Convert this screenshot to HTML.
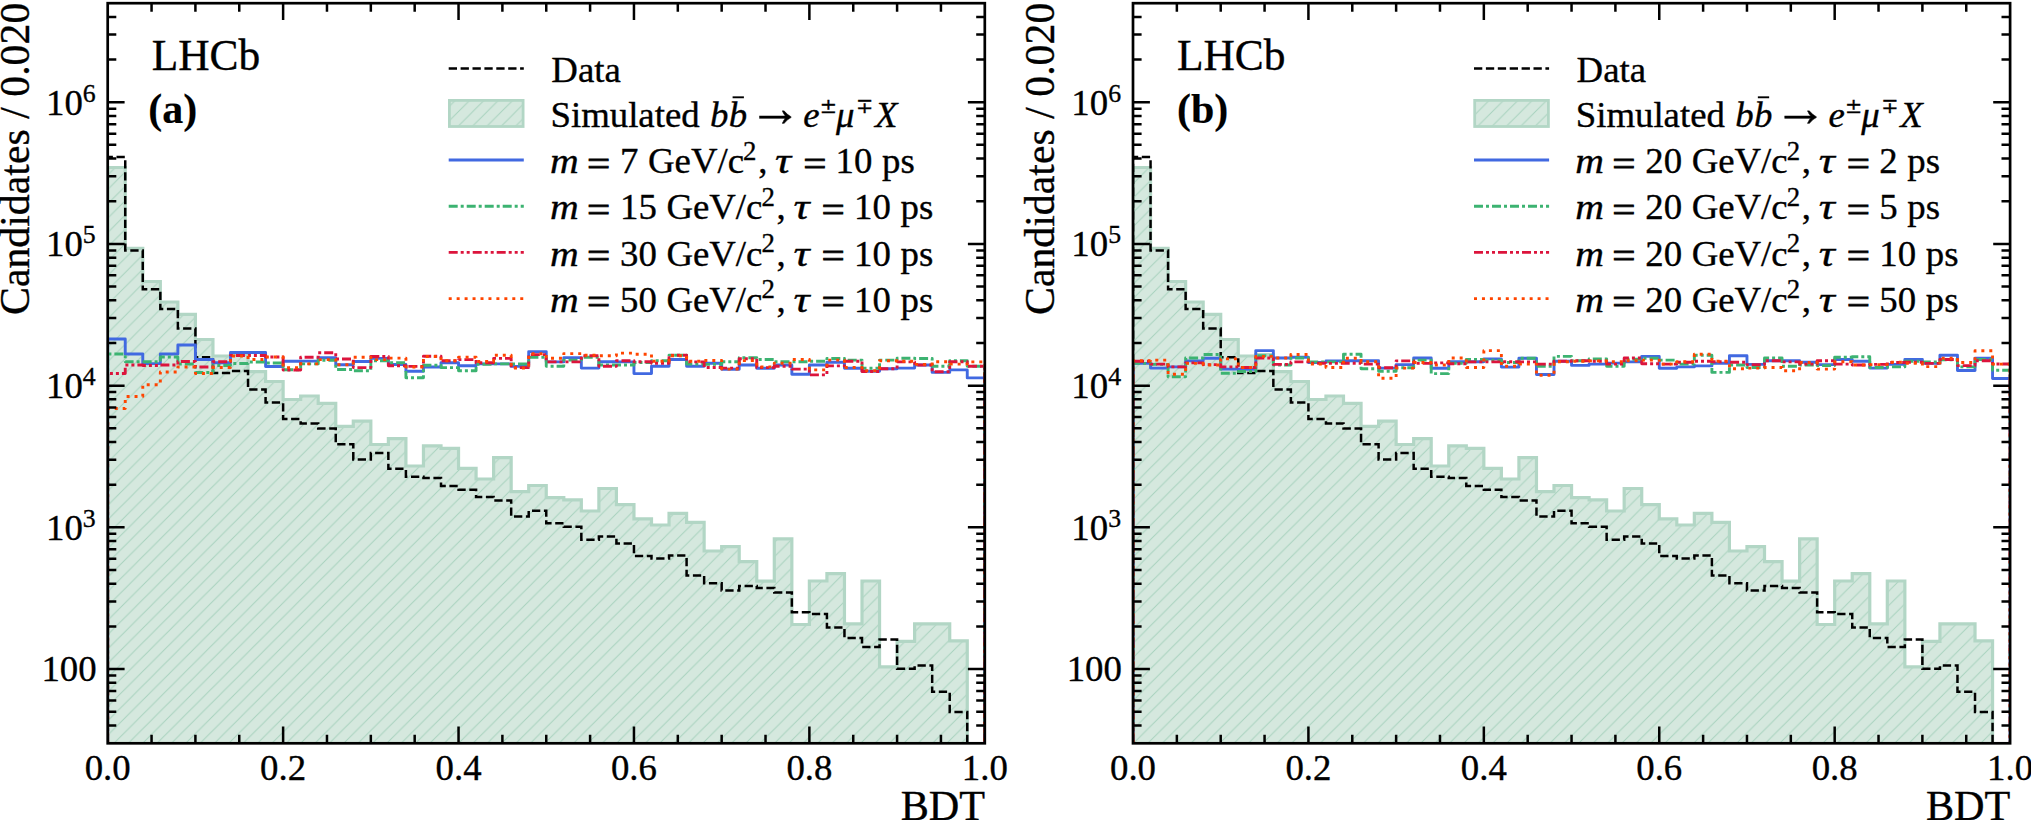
<!DOCTYPE html>
<html><head><meta charset="utf-8"><title>BDT distributions</title>
<style>html,body{margin:0;padding:0;background:#fff}svg{display:block}text{font-family:"Liberation Serif","DejaVu Serif",serif;fill:#000;stroke:#000;stroke-width:0.35px}.it{font-style:italic}.b{font-weight:bold;stroke-width:0.15px}</style></head><body>
<svg width="2031" height="820" viewBox="0 0 2031 820">
<rect width="2031" height="820" fill="#fff"/>
<defs>
<pattern id="hatch" patternUnits="userSpaceOnUse" width="14.36" height="14.36" x="10.0" y="0"><path d="M-7.18 7.18 L7.18 -7.18 M0 14.36 L14.36 0 M7.18 21.54 L21.54 7.18" stroke="#a8d2be" stroke-width="1.0" fill="none"/></pattern>
<clipPath id="clip0"><rect x="107.7" y="3.2" width="877.1" height="740.1"/></clipPath>
<clipPath id="clip1"><rect x="1133" y="3.2" width="877.1" height="740.1"/></clipPath>
</defs>
<g clip-path="url(#clip0)">
<path d="M107.7 743.3 L107.7 167.5 L125.24 167.5 L125.24 248.4 L142.78 248.4 L142.78 281.5 L160.33 281.5 L160.33 302 L177.87 302 L177.87 314.4 L195.41 314.4 L195.41 339.5 L212.95 339.5 L212.95 356 L230.49 356 L230.49 354.5 L248.04 354.5 L248.04 371.6 L265.58 371.6 L265.58 381.5 L283.12 381.5 L283.12 399.5 L300.66 399.5 L300.66 396 L318.2 396 L318.2 403.3 L335.75 403.3 L335.75 426.4 L353.29 426.4 L353.29 421.2 L370.83 421.2 L370.83 444.5 L388.37 444.5 L388.37 438.6 L405.91 438.6 L405.91 466 L423.46 466 L423.46 445.9 L441 445.9 L441 448.4 L458.54 448.4 L458.54 468.3 L476.08 468.3 L476.08 479 L493.62 479 L493.62 457.6 L511.17 457.6 L511.17 491.7 L528.71 491.7 L528.71 485.5 L546.25 485.5 L546.25 497.6 L563.79 497.6 L563.79 499.8 L581.33 499.8 L581.33 511 L598.88 511 L598.88 488.5 L616.42 488.5 L616.42 504.7 L633.96 504.7 L633.96 518.8 L651.5 518.8 L651.5 525 L669.04 525 L669.04 513.3 L686.59 513.3 L686.59 522.3 L704.13 522.3 L704.13 551 L721.67 551 L721.67 546.7 L739.21 546.7 L739.21 561.7 L756.75 561.7 L756.75 581.2 L774.3 581.2 L774.3 538.8 L791.84 538.8 L791.84 624.5 L809.38 624.5 L809.38 581 L826.92 581 L826.92 573.7 L844.46 573.7 L844.46 623.9 L862.01 623.9 L862.01 581 L879.55 581 L879.55 666.8 L897.09 666.8 L897.09 641.3 L914.63 641.3 L914.63 623.9 L932.17 623.9 L932.17 623.9 L949.72 623.9 L949.72 640.8 L967.26 640.8 L967.26 743.3 Z" fill="#d5e8de" stroke="none"/>
<path d="M107.7 743.3 L107.7 167.5 L125.24 167.5 L125.24 248.4 L142.78 248.4 L142.78 281.5 L160.33 281.5 L160.33 302 L177.87 302 L177.87 314.4 L195.41 314.4 L195.41 339.5 L212.95 339.5 L212.95 356 L230.49 356 L230.49 354.5 L248.04 354.5 L248.04 371.6 L265.58 371.6 L265.58 381.5 L283.12 381.5 L283.12 399.5 L300.66 399.5 L300.66 396 L318.2 396 L318.2 403.3 L335.75 403.3 L335.75 426.4 L353.29 426.4 L353.29 421.2 L370.83 421.2 L370.83 444.5 L388.37 444.5 L388.37 438.6 L405.91 438.6 L405.91 466 L423.46 466 L423.46 445.9 L441 445.9 L441 448.4 L458.54 448.4 L458.54 468.3 L476.08 468.3 L476.08 479 L493.62 479 L493.62 457.6 L511.17 457.6 L511.17 491.7 L528.71 491.7 L528.71 485.5 L546.25 485.5 L546.25 497.6 L563.79 497.6 L563.79 499.8 L581.33 499.8 L581.33 511 L598.88 511 L598.88 488.5 L616.42 488.5 L616.42 504.7 L633.96 504.7 L633.96 518.8 L651.5 518.8 L651.5 525 L669.04 525 L669.04 513.3 L686.59 513.3 L686.59 522.3 L704.13 522.3 L704.13 551 L721.67 551 L721.67 546.7 L739.21 546.7 L739.21 561.7 L756.75 561.7 L756.75 581.2 L774.3 581.2 L774.3 538.8 L791.84 538.8 L791.84 624.5 L809.38 624.5 L809.38 581 L826.92 581 L826.92 573.7 L844.46 573.7 L844.46 623.9 L862.01 623.9 L862.01 581 L879.55 581 L879.55 666.8 L897.09 666.8 L897.09 641.3 L914.63 641.3 L914.63 623.9 L932.17 623.9 L932.17 623.9 L949.72 623.9 L949.72 640.8 L967.26 640.8 L967.26 743.3 Z" fill="url(#hatch)" stroke="none"/>
<path d="M107.7 743.3 L107.7 167.5 L125.24 167.5 L125.24 248.4 L142.78 248.4 L142.78 281.5 L160.33 281.5 L160.33 302 L177.87 302 L177.87 314.4 L195.41 314.4 L195.41 339.5 L212.95 339.5 L212.95 356 L230.49 356 L230.49 354.5 L248.04 354.5 L248.04 371.6 L265.58 371.6 L265.58 381.5 L283.12 381.5 L283.12 399.5 L300.66 399.5 L300.66 396 L318.2 396 L318.2 403.3 L335.75 403.3 L335.75 426.4 L353.29 426.4 L353.29 421.2 L370.83 421.2 L370.83 444.5 L388.37 444.5 L388.37 438.6 L405.91 438.6 L405.91 466 L423.46 466 L423.46 445.9 L441 445.9 L441 448.4 L458.54 448.4 L458.54 468.3 L476.08 468.3 L476.08 479 L493.62 479 L493.62 457.6 L511.17 457.6 L511.17 491.7 L528.71 491.7 L528.71 485.5 L546.25 485.5 L546.25 497.6 L563.79 497.6 L563.79 499.8 L581.33 499.8 L581.33 511 L598.88 511 L598.88 488.5 L616.42 488.5 L616.42 504.7 L633.96 504.7 L633.96 518.8 L651.5 518.8 L651.5 525 L669.04 525 L669.04 513.3 L686.59 513.3 L686.59 522.3 L704.13 522.3 L704.13 551 L721.67 551 L721.67 546.7 L739.21 546.7 L739.21 561.7 L756.75 561.7 L756.75 581.2 L774.3 581.2 L774.3 538.8 L791.84 538.8 L791.84 624.5 L809.38 624.5 L809.38 581 L826.92 581 L826.92 573.7 L844.46 573.7 L844.46 623.9 L862.01 623.9 L862.01 581 L879.55 581 L879.55 666.8 L897.09 666.8 L897.09 641.3 L914.63 641.3 L914.63 623.9 L932.17 623.9 L932.17 623.9 L949.72 623.9 L949.72 640.8 L967.26 640.8 L967.26 743.3" fill="none" stroke="#b2d6c5" stroke-width="3.2" stroke-linejoin="miter"/>
<path d="M107.7 743.3 L107.7 157.1 L125.24 157.1 L125.24 250.4 L142.78 250.4 L142.78 289.3 L160.33 289.3 L160.33 309 L177.87 309 L177.87 328.5 L195.41 328.5 L195.41 357.3 L212.95 357.3 L212.95 373 L230.49 373 L230.49 371.1 L248.04 371.1 L248.04 389.5 L265.58 389.5 L265.58 402.6 L283.12 402.6 L283.12 419 L300.66 419 L300.66 423.4 L318.2 423.4 L318.2 428.5 L335.75 428.5 L335.75 444.3 L353.29 444.3 L353.29 459.5 L370.83 459.5 L370.83 453.1 L388.37 453.1 L388.37 468.7 L405.91 468.7 L405.91 476.7 L423.46 476.7 L423.46 478.1 L441 478.1 L441 485.9 L458.54 485.9 L458.54 489.8 L476.08 489.8 L476.08 497 L493.62 497 L493.62 500.5 L511.17 500.5 L511.17 516.5 L528.71 516.5 L528.71 510.7 L546.25 510.7 L546.25 523.2 L563.79 523.2 L563.79 526.8 L581.33 526.8 L581.33 539.7 L598.88 539.7 L598.88 536.4 L616.42 536.4 L616.42 543.4 L633.96 543.4 L633.96 555.9 L651.5 555.9 L651.5 558.4 L669.04 558.4 L669.04 555.5 L686.59 555.5 L686.59 575.4 L704.13 575.4 L704.13 583.2 L721.67 583.2 L721.67 590.6 L739.21 590.6 L739.21 586.1 L756.75 586.1 L756.75 588.1 L774.3 588.1 L774.3 592.4 L791.84 592.4 L791.84 612.2 L809.38 612.2 L809.38 614 L826.92 614 L826.92 627.4 L844.46 627.4 L844.46 637.9 L862.01 637.9 L862.01 647 L879.55 647 L879.55 639.5 L897.09 639.5 L897.09 668.7 L914.63 668.7 L914.63 665.5 L932.17 665.5 L932.17 691.8 L949.72 691.8 L949.72 711.9 L967.26 711.9 L967.26 743.3" fill="none" stroke="#000" stroke-width="2.5" stroke-dasharray="8.3 3.6"/>
<path d="M107.7 743.3 L107.7 339 L125.24 339 L125.24 354 L142.78 354 L142.78 363.6 L160.33 363.6 L160.33 354 L177.87 354 L177.87 345 L195.41 345 L195.41 359.5 L212.95 359.5 L212.95 362.7 L230.49 362.7 L230.49 352.5 L248.04 352.5 L248.04 352.5 L265.58 352.5 L265.58 366.5 L283.12 366.5 L283.12 361.3 L300.66 361.3 L300.66 361.1 L318.2 361.1 L318.2 357.8 L335.75 357.8 L335.75 364.8 L353.29 364.8 L353.29 361.5 L370.83 361.5 L370.83 358.4 L388.37 358.4 L388.37 364.5 L405.91 364.5 L405.91 371.3 L423.46 371.3 L423.46 367 L441 367 L441 362.7 L458.54 362.7 L458.54 365.8 L476.08 365.8 L476.08 363.9 L493.62 363.9 L493.62 363.9 L511.17 363.9 L511.17 366.4 L528.71 366.4 L528.71 351.6 L546.25 351.6 L546.25 361.9 L563.79 361.9 L563.79 357.6 L581.33 357.6 L581.33 368.1 L598.88 368.1 L598.88 361.7 L616.42 361.7 L616.42 361.9 L633.96 361.9 L633.96 373.6 L651.5 373.6 L651.5 366.2 L669.04 366.2 L669.04 359.5 L686.59 359.5 L686.59 366.2 L704.13 366.2 L704.13 363.2 L721.67 363.2 L721.67 369.3 L739.21 369.3 L739.21 365 L756.75 365 L756.75 368.3 L774.3 368.3 L774.3 365 L791.84 365 L791.84 374.2 L809.38 374.2 L809.38 365 L826.92 365 L826.92 362.2 L844.46 362.2 L844.46 368.3 L862.01 368.3 L862.01 371.2 L879.55 371.2 L879.55 368.7 L897.09 368.7 L897.09 368.1 L914.63 368.1 L914.63 365 L932.17 365 L932.17 372.4 L949.72 372.4 L949.72 369.9 L967.26 369.9 L967.26 377.9 L984.8 377.9 L984.8 743.3" fill="none" stroke="#4169e1" stroke-width="2.9" stroke-linejoin="round"/>
<path d="M107.7 743.3 L107.7 354 L125.24 354 L125.24 361.8 L142.78 361.8 L142.78 361.8 L160.33 361.8 L160.33 357 L177.87 357 L177.87 364 L195.41 364 L195.41 372.5 L212.95 372.5 L212.95 365.5 L230.49 365.5 L230.49 363.5 L248.04 363.5 L248.04 362 L265.58 362 L265.58 363 L283.12 363 L283.12 369.8 L300.66 369.8 L300.66 363.9 L318.2 363.9 L318.2 360.2 L335.75 360.2 L335.75 369.5 L353.29 369.5 L353.29 370.7 L370.83 370.7 L370.83 360.8 L388.37 360.8 L388.37 362.7 L405.91 362.7 L405.91 377.8 L423.46 377.8 L423.46 365.2 L441 365.2 L441 367.6 L458.54 367.6 L458.54 370.7 L476.08 370.7 L476.08 364.3 L493.62 364.3 L493.62 363.9 L511.17 363.9 L511.17 364 L528.71 364 L528.71 357.4 L546.25 357.4 L546.25 366.2 L563.79 366.2 L563.79 360.1 L581.33 360.1 L581.33 357.3 L598.88 357.3 L598.88 365 L616.42 365 L616.42 365 L633.96 365 L633.96 362.5 L651.5 362.5 L651.5 360.7 L669.04 360.7 L669.04 355.2 L686.59 355.2 L686.59 364.1 L704.13 364.1 L704.13 364.4 L721.67 364.4 L721.67 361.7 L739.21 361.7 L739.21 357.8 L756.75 357.8 L756.75 359.5 L774.3 359.5 L774.3 361.7 L791.84 361.7 L791.84 361.7 L809.38 361.7 L809.38 361.3 L826.92 361.3 L826.92 358.5 L844.46 358.5 L844.46 360.1 L862.01 360.1 L862.01 368.3 L879.55 368.3 L879.55 360.1 L897.09 360.1 L897.09 358.2 L914.63 358.2 L914.63 358.5 L932.17 358.5 L932.17 366.2 L949.72 366.2 L949.72 360.7 L967.26 360.7 L967.26 366.2 L984.8 366.2 L984.8 743.3" fill="none" stroke="#3cb371" stroke-width="2.9" stroke-linejoin="round" stroke-dasharray="9 3 3 3"/>
<path d="M107.7 743.3 L107.7 373.5 L125.24 373.5 L125.24 365 L142.78 365 L142.78 365.5 L160.33 365.5 L160.33 365 L177.87 365 L177.87 361.5 L195.41 361.5 L195.41 367 L212.95 367 L212.95 361.8 L230.49 361.8 L230.49 355.5 L248.04 355.5 L248.04 355.5 L265.58 355.5 L265.58 357 L283.12 357 L283.12 370 L300.66 370 L300.66 357.2 L318.2 357.2 L318.2 352.8 L335.75 352.8 L335.75 359 L353.29 359 L353.29 367.6 L370.83 367.6 L370.83 356.5 L388.37 356.5 L388.37 365.8 L405.91 365.8 L405.91 366.4 L423.46 366.4 L423.46 356.2 L441 356.2 L441 360.8 L458.54 360.8 L458.54 359.6 L476.08 359.6 L476.08 362.7 L493.62 362.7 L493.62 358.4 L511.17 358.4 L511.17 367.6 L528.71 367.6 L528.71 354.6 L546.25 354.6 L546.25 361.9 L563.79 361.9 L563.79 361.9 L581.33 361.9 L581.33 355.8 L598.88 355.8 L598.88 366.2 L616.42 366.2 L616.42 360.7 L633.96 360.7 L633.96 361.7 L651.5 361.7 L651.5 363.2 L669.04 363.2 L669.04 355.2 L686.59 355.2 L686.59 361.9 L704.13 361.9 L704.13 367.5 L721.67 367.5 L721.67 368.1 L739.21 368.1 L739.21 358.8 L756.75 358.8 L756.75 367.6 L774.3 367.6 L774.3 366.2 L791.84 366.2 L791.84 369.1 L809.38 369.1 L809.38 374.9 L826.92 374.9 L826.92 365.9 L844.46 365.9 L844.46 361.3 L862.01 361.3 L862.01 371.5 L879.55 371.5 L879.55 368.7 L897.09 368.7 L897.09 361.9 L914.63 361.9 L914.63 365 L932.17 365 L932.17 371.8 L949.72 371.8 L949.72 361.7 L967.26 361.7 L967.26 366.2 L984.8 366.2 L984.8 743.3" fill="none" stroke="#dc143c" stroke-width="2.9" stroke-linejoin="round" stroke-dasharray="9 3 3 3 3 3"/>
<path d="M107.7 743.3 L107.7 408.5 L125.24 408.5 L125.24 396.5 L142.78 396.5 L142.78 384.8 L160.33 384.8 L160.33 372 L177.87 372 L177.87 367 L195.41 367 L195.41 373.5 L212.95 373.5 L212.95 367.5 L230.49 367.5 L230.49 356 L248.04 356 L248.04 359.5 L265.58 359.5 L265.58 357 L283.12 357 L283.12 367.6 L300.66 367.6 L300.66 363.9 L318.2 363.9 L318.2 359.6 L335.75 359.6 L335.75 364.8 L353.29 364.8 L353.29 357.2 L370.83 357.2 L370.83 359.6 L388.37 359.6 L388.37 358.1 L405.91 358.1 L405.91 367 L423.46 367 L423.46 356.5 L441 356.5 L441 360.8 L458.54 360.8 L458.54 357.2 L476.08 357.2 L476.08 361.5 L493.62 361.5 L493.62 355.3 L511.17 355.3 L511.17 368 L528.71 368 L528.71 353.8 L546.25 353.8 L546.25 358.2 L563.79 358.2 L563.79 353.6 L581.33 353.6 L581.33 355.2 L598.88 355.2 L598.88 355.8 L616.42 355.8 L616.42 353.1 L633.96 353.1 L633.96 354.3 L651.5 354.3 L651.5 361.3 L669.04 361.3 L669.04 355.8 L686.59 355.8 L686.59 361.3 L704.13 361.3 L704.13 360.5 L721.67 360.5 L721.67 369.1 L739.21 369.1 L739.21 360.6 L756.75 360.6 L756.75 366.9 L774.3 366.9 L774.3 363.2 L791.84 363.2 L791.84 359.5 L809.38 359.5 L809.38 369.9 L826.92 369.9 L826.92 360.1 L844.46 360.1 L844.46 367.5 L862.01 367.5 L862.01 370.8 L879.55 370.8 L879.55 360.7 L897.09 360.7 L897.09 361.3 L914.63 361.3 L914.63 364.4 L932.17 364.4 L932.17 361.7 L949.72 361.7 L949.72 364.1 L967.26 364.1 L967.26 361.9 L984.8 361.9 L984.8 743.3" fill="none" stroke="#ff4500" stroke-width="2.9" stroke-linejoin="round" stroke-dasharray="3 4.95"/>
</g>
<path d="M107.7 725.48h8.6M984.8 725.48h-8.6M107.7 711.74h8.6M984.8 711.74h-8.6M107.7 700.52h8.6M984.8 700.52h-8.6M107.7 691.03h8.6M984.8 691.03h-8.6M107.7 682.81h8.6M984.8 682.81h-8.6M107.7 675.56h8.6M984.8 675.56h-8.6M107.7 669.08h16.9M984.8 669.08h-16.9M107.7 626.42h8.6M984.8 626.42h-8.6M107.7 601.46h8.6M984.8 601.46h-8.6M107.7 583.76h8.6M984.8 583.76h-8.6M107.7 570.02h8.6M984.8 570.02h-8.6M107.7 558.8h8.6M984.8 558.8h-8.6M107.7 549.31h8.6M984.8 549.31h-8.6M107.7 541.09h8.6M984.8 541.09h-8.6M107.7 533.84h8.6M984.8 533.84h-8.6M107.7 527.36h16.9M984.8 527.36h-16.9M107.7 484.7h8.6M984.8 484.7h-8.6M107.7 459.74h8.6M984.8 459.74h-8.6M107.7 442.04h8.6M984.8 442.04h-8.6M107.7 428.3h8.6M984.8 428.3h-8.6M107.7 417.08h8.6M984.8 417.08h-8.6M107.7 407.59h8.6M984.8 407.59h-8.6M107.7 399.37h8.6M984.8 399.37h-8.6M107.7 392.12h8.6M984.8 392.12h-8.6M107.7 385.64h16.9M984.8 385.64h-16.9M107.7 342.98h8.6M984.8 342.98h-8.6M107.7 318.02h8.6M984.8 318.02h-8.6M107.7 300.32h8.6M984.8 300.32h-8.6M107.7 286.58h8.6M984.8 286.58h-8.6M107.7 275.36h8.6M984.8 275.36h-8.6M107.7 265.87h8.6M984.8 265.87h-8.6M107.7 257.65h8.6M984.8 257.65h-8.6M107.7 250.4h8.6M984.8 250.4h-8.6M107.7 243.92h16.9M984.8 243.92h-16.9M107.7 201.26h8.6M984.8 201.26h-8.6M107.7 176.3h8.6M984.8 176.3h-8.6M107.7 158.6h8.6M984.8 158.6h-8.6M107.7 144.86h8.6M984.8 144.86h-8.6M107.7 133.64h8.6M984.8 133.64h-8.6M107.7 124.15h8.6M984.8 124.15h-8.6M107.7 115.93h8.6M984.8 115.93h-8.6M107.7 108.68h8.6M984.8 108.68h-8.6M107.7 102.2h16.9M984.8 102.2h-16.9M107.7 59.54h8.6M984.8 59.54h-8.6M107.7 34.58h8.6M984.8 34.58h-8.6M107.7 16.88h8.6M984.8 16.88h-8.6M151.56 743.3v-8.6M151.56 3.2v8.6M195.41 743.3v-8.6M195.41 3.2v8.6M239.26 743.3v-8.6M239.26 3.2v8.6M283.12 743.3v-16.9M283.12 3.2v16.9M326.98 743.3v-8.6M326.98 3.2v8.6M370.83 743.3v-8.6M370.83 3.2v8.6M414.68 743.3v-8.6M414.68 3.2v8.6M458.54 743.3v-16.9M458.54 3.2v16.9M502.39 743.3v-8.6M502.39 3.2v8.6M546.25 743.3v-8.6M546.25 3.2v8.6M590.1 743.3v-8.6M590.1 3.2v8.6M633.96 743.3v-16.9M633.96 3.2v16.9M677.82 743.3v-8.6M677.82 3.2v8.6M721.67 743.3v-8.6M721.67 3.2v8.6M765.52 743.3v-8.6M765.52 3.2v8.6M809.38 743.3v-16.9M809.38 3.2v16.9M853.24 743.3v-8.6M853.24 3.2v8.6M897.09 743.3v-8.6M897.09 3.2v8.6M940.94 743.3v-8.6M940.94 3.2v8.6" stroke="#000" stroke-width="2.5" fill="none"/>
<rect x="107.7" y="3.2" width="877.1" height="740.1" fill="none" stroke="#000" stroke-width="2.7"/>
<text x="96.6" y="681.38" font-size="36.8" text-anchor="end">100</text>
<text x="95.7" y="539.66" font-size="36.8" text-anchor="end">10<tspan font-size="25.76" dy="-12.9">3</tspan></text>
<text x="95.7" y="397.94" font-size="36.8" text-anchor="end">10<tspan font-size="25.76" dy="-12.9">4</tspan></text>
<text x="95.7" y="256.22" font-size="36.8" text-anchor="end">10<tspan font-size="25.76" dy="-12.9">5</tspan></text>
<text x="95.7" y="114.5" font-size="36.8" text-anchor="end">10<tspan font-size="25.76" dy="-12.9">6</tspan></text>
<text x="107.7" y="779.5" font-size="36.8" text-anchor="middle">0.0</text>
<text x="283.12" y="779.5" font-size="36.8" text-anchor="middle">0.2</text>
<text x="458.54" y="779.5" font-size="36.8" text-anchor="middle">0.4</text>
<text x="633.96" y="779.5" font-size="36.8" text-anchor="middle">0.6</text>
<text x="809.38" y="779.5" font-size="36.8" text-anchor="middle">0.8</text>
<text x="984.8" y="779.5" font-size="36.8" text-anchor="middle">1.0</text>
<text x="985" y="819.5" font-size="42.2" text-anchor="end">BDT</text>
<text transform="translate(28.6 2.7) rotate(-90)" font-size="41.8" text-anchor="end">Candidates / 0.020</text>
<text x="151.7" y="70" font-size="43.4">LHCb</text>
<text x="148.3" y="122.5" font-size="42" class="b">(a)</text>
<path d="M448.7 68.4H523.8" stroke="#000" stroke-width="2.5" stroke-dasharray="8.3 3.6"/>
<rect x="449.4" y="100.4" width="73.7" height="26.1" fill="#d5e8de"/>
<rect x="449.4" y="100.4" width="73.7" height="26.1" fill="url(#hatch)"/>
<rect x="449.4" y="100.4" width="73.7" height="26.1" fill="none" stroke="#b2d6c5" stroke-width="2.8"/>
<path d="M448.7 160H523.8" stroke="#4169e1" stroke-width="2.9"/>
<path d="M448.7 206.2H523.8" stroke="#3cb371" stroke-width="2.9" stroke-dasharray="9 3 3 3"/>
<path d="M448.7 252.4H523.8" stroke="#dc143c" stroke-width="2.9" stroke-dasharray="9 3 3 3 3 3"/>
<path d="M448.7 298.6H523.8" stroke="#ff4500" stroke-width="2.9" stroke-dasharray="3 4.95"/>
<text x="551.34" y="81.5" font-size="36.8">Data</text>
<text x="550.44" y="126.5" font-size="36.8">Simulated</text>
<text x="710.03" y="126.5" font-size="36.8" class="it">b</text>
<text x="728.63" y="126.5" font-size="36.8" class="it">b</text>
<path d="M732.6 97.3h11.3" stroke="#000" stroke-width="1.9"/>
<text x="748.58" y="126.3" font-size="53.5">→</text>
<text x="803.27" y="126.5" font-size="36.8" class="it">e</text>
<text x="819.82" y="113.1" font-size="20.6" style="font-family:'DejaVu Serif',serif">±</text>
<text x="836.04" y="126.5" font-size="36.8" class="it">μ</text>
<text x="856.02" y="113.1" font-size="20.6" style="font-family:'DejaVu Serif',serif">∓</text>
<text x="874.92" y="126.5" font-size="36.8" class="it">X</text>
<text transform="translate(549.96 173.1) scale(1.08 1)" font-size="36.8" class="it">m</text>
<text transform="translate(587.05 175.7) scale(1.12 1)" font-size="36.8" style="stroke-width:0.8px">=</text>
<text x="620" y="173.1" font-size="36.8">7</text>
<text x="648" y="173.1" font-size="36.8">GeV/c</text>
<text x="743.12" y="159.6" font-size="26.8">2</text>
<text x="758.2" y="173.1" font-size="36.8">,</text>
<text transform="translate(775.01 173.1) scale(1.22 1)" font-size="36.8" class="it">τ</text>
<text transform="translate(803.15 175.7) scale(1.12 1)" font-size="36.8" style="stroke-width:0.8px">=</text>
<text x="835.6" y="173.1" font-size="36.8">10</text>
<text x="882.11" y="173.1" font-size="36.8">ps</text>
<text transform="translate(549.96 219.3) scale(1.08 1)" font-size="36.8" class="it">m</text>
<text transform="translate(587.05 221.9) scale(1.12 1)" font-size="36.8" style="stroke-width:0.8px">=</text>
<text x="620" y="219.3" font-size="36.8">15</text>
<text x="666.4" y="219.3" font-size="36.8">GeV/c</text>
<text x="761.52" y="205.8" font-size="26.8">2</text>
<text x="776.6" y="219.3" font-size="36.8">,</text>
<text transform="translate(793.41 219.3) scale(1.22 1)" font-size="36.8" class="it">τ</text>
<text transform="translate(821.55 221.9) scale(1.12 1)" font-size="36.8" style="stroke-width:0.8px">=</text>
<text x="854" y="219.3" font-size="36.8">10</text>
<text x="900.51" y="219.3" font-size="36.8">ps</text>
<text transform="translate(549.96 265.5) scale(1.08 1)" font-size="36.8" class="it">m</text>
<text transform="translate(587.05 268.1) scale(1.12 1)" font-size="36.8" style="stroke-width:0.8px">=</text>
<text x="620" y="265.5" font-size="36.8">30</text>
<text x="666.4" y="265.5" font-size="36.8">GeV/c</text>
<text x="761.52" y="252" font-size="26.8">2</text>
<text x="776.6" y="265.5" font-size="36.8">,</text>
<text transform="translate(793.41 265.5) scale(1.22 1)" font-size="36.8" class="it">τ</text>
<text transform="translate(821.55 268.1) scale(1.12 1)" font-size="36.8" style="stroke-width:0.8px">=</text>
<text x="854" y="265.5" font-size="36.8">10</text>
<text x="900.51" y="265.5" font-size="36.8">ps</text>
<text transform="translate(549.96 311.7) scale(1.08 1)" font-size="36.8" class="it">m</text>
<text transform="translate(587.05 314.3) scale(1.12 1)" font-size="36.8" style="stroke-width:0.8px">=</text>
<text x="620" y="311.7" font-size="36.8">50</text>
<text x="666.4" y="311.7" font-size="36.8">GeV/c</text>
<text x="761.52" y="298.2" font-size="26.8">2</text>
<text x="776.6" y="311.7" font-size="36.8">,</text>
<text transform="translate(793.41 311.7) scale(1.22 1)" font-size="36.8" class="it">τ</text>
<text transform="translate(821.55 314.3) scale(1.12 1)" font-size="36.8" style="stroke-width:0.8px">=</text>
<text x="854" y="311.7" font-size="36.8">10</text>
<text x="900.51" y="311.7" font-size="36.8">ps</text>
<g clip-path="url(#clip1)">
<path d="M1133 743.3 L1133 167.5 L1150.54 167.5 L1150.54 248.4 L1168.08 248.4 L1168.08 281.5 L1185.63 281.5 L1185.63 302 L1203.17 302 L1203.17 314.4 L1220.71 314.4 L1220.71 339.5 L1238.25 339.5 L1238.25 356 L1255.79 356 L1255.79 354.5 L1273.34 354.5 L1273.34 371.6 L1290.88 371.6 L1290.88 381.5 L1308.42 381.5 L1308.42 399.5 L1325.96 399.5 L1325.96 396 L1343.5 396 L1343.5 403.3 L1361.05 403.3 L1361.05 426.4 L1378.59 426.4 L1378.59 421.2 L1396.13 421.2 L1396.13 444.5 L1413.67 444.5 L1413.67 438.6 L1431.21 438.6 L1431.21 466 L1448.76 466 L1448.76 445.9 L1466.3 445.9 L1466.3 448.4 L1483.84 448.4 L1483.84 468.3 L1501.38 468.3 L1501.38 479 L1518.92 479 L1518.92 457.6 L1536.47 457.6 L1536.47 491.7 L1554.01 491.7 L1554.01 485.5 L1571.55 485.5 L1571.55 497.6 L1589.09 497.6 L1589.09 499.8 L1606.63 499.8 L1606.63 511 L1624.18 511 L1624.18 488.5 L1641.72 488.5 L1641.72 504.7 L1659.26 504.7 L1659.26 518.8 L1676.8 518.8 L1676.8 525 L1694.34 525 L1694.34 513.3 L1711.89 513.3 L1711.89 522.3 L1729.43 522.3 L1729.43 551 L1746.97 551 L1746.97 546.7 L1764.51 546.7 L1764.51 561.7 L1782.05 561.7 L1782.05 581.2 L1799.6 581.2 L1799.6 538.8 L1817.14 538.8 L1817.14 624.5 L1834.68 624.5 L1834.68 581 L1852.22 581 L1852.22 573.7 L1869.76 573.7 L1869.76 623.9 L1887.31 623.9 L1887.31 581 L1904.85 581 L1904.85 666.8 L1922.39 666.8 L1922.39 641.3 L1939.93 641.3 L1939.93 623.9 L1957.47 623.9 L1957.47 623.9 L1975.02 623.9 L1975.02 640.8 L1992.56 640.8 L1992.56 743.3 Z" fill="#d5e8de" stroke="none"/>
<path d="M1133 743.3 L1133 167.5 L1150.54 167.5 L1150.54 248.4 L1168.08 248.4 L1168.08 281.5 L1185.63 281.5 L1185.63 302 L1203.17 302 L1203.17 314.4 L1220.71 314.4 L1220.71 339.5 L1238.25 339.5 L1238.25 356 L1255.79 356 L1255.79 354.5 L1273.34 354.5 L1273.34 371.6 L1290.88 371.6 L1290.88 381.5 L1308.42 381.5 L1308.42 399.5 L1325.96 399.5 L1325.96 396 L1343.5 396 L1343.5 403.3 L1361.05 403.3 L1361.05 426.4 L1378.59 426.4 L1378.59 421.2 L1396.13 421.2 L1396.13 444.5 L1413.67 444.5 L1413.67 438.6 L1431.21 438.6 L1431.21 466 L1448.76 466 L1448.76 445.9 L1466.3 445.9 L1466.3 448.4 L1483.84 448.4 L1483.84 468.3 L1501.38 468.3 L1501.38 479 L1518.92 479 L1518.92 457.6 L1536.47 457.6 L1536.47 491.7 L1554.01 491.7 L1554.01 485.5 L1571.55 485.5 L1571.55 497.6 L1589.09 497.6 L1589.09 499.8 L1606.63 499.8 L1606.63 511 L1624.18 511 L1624.18 488.5 L1641.72 488.5 L1641.72 504.7 L1659.26 504.7 L1659.26 518.8 L1676.8 518.8 L1676.8 525 L1694.34 525 L1694.34 513.3 L1711.89 513.3 L1711.89 522.3 L1729.43 522.3 L1729.43 551 L1746.97 551 L1746.97 546.7 L1764.51 546.7 L1764.51 561.7 L1782.05 561.7 L1782.05 581.2 L1799.6 581.2 L1799.6 538.8 L1817.14 538.8 L1817.14 624.5 L1834.68 624.5 L1834.68 581 L1852.22 581 L1852.22 573.7 L1869.76 573.7 L1869.76 623.9 L1887.31 623.9 L1887.31 581 L1904.85 581 L1904.85 666.8 L1922.39 666.8 L1922.39 641.3 L1939.93 641.3 L1939.93 623.9 L1957.47 623.9 L1957.47 623.9 L1975.02 623.9 L1975.02 640.8 L1992.56 640.8 L1992.56 743.3 Z" fill="url(#hatch)" stroke="none"/>
<path d="M1133 743.3 L1133 167.5 L1150.54 167.5 L1150.54 248.4 L1168.08 248.4 L1168.08 281.5 L1185.63 281.5 L1185.63 302 L1203.17 302 L1203.17 314.4 L1220.71 314.4 L1220.71 339.5 L1238.25 339.5 L1238.25 356 L1255.79 356 L1255.79 354.5 L1273.34 354.5 L1273.34 371.6 L1290.88 371.6 L1290.88 381.5 L1308.42 381.5 L1308.42 399.5 L1325.96 399.5 L1325.96 396 L1343.5 396 L1343.5 403.3 L1361.05 403.3 L1361.05 426.4 L1378.59 426.4 L1378.59 421.2 L1396.13 421.2 L1396.13 444.5 L1413.67 444.5 L1413.67 438.6 L1431.21 438.6 L1431.21 466 L1448.76 466 L1448.76 445.9 L1466.3 445.9 L1466.3 448.4 L1483.84 448.4 L1483.84 468.3 L1501.38 468.3 L1501.38 479 L1518.92 479 L1518.92 457.6 L1536.47 457.6 L1536.47 491.7 L1554.01 491.7 L1554.01 485.5 L1571.55 485.5 L1571.55 497.6 L1589.09 497.6 L1589.09 499.8 L1606.63 499.8 L1606.63 511 L1624.18 511 L1624.18 488.5 L1641.72 488.5 L1641.72 504.7 L1659.26 504.7 L1659.26 518.8 L1676.8 518.8 L1676.8 525 L1694.34 525 L1694.34 513.3 L1711.89 513.3 L1711.89 522.3 L1729.43 522.3 L1729.43 551 L1746.97 551 L1746.97 546.7 L1764.51 546.7 L1764.51 561.7 L1782.05 561.7 L1782.05 581.2 L1799.6 581.2 L1799.6 538.8 L1817.14 538.8 L1817.14 624.5 L1834.68 624.5 L1834.68 581 L1852.22 581 L1852.22 573.7 L1869.76 573.7 L1869.76 623.9 L1887.31 623.9 L1887.31 581 L1904.85 581 L1904.85 666.8 L1922.39 666.8 L1922.39 641.3 L1939.93 641.3 L1939.93 623.9 L1957.47 623.9 L1957.47 623.9 L1975.02 623.9 L1975.02 640.8 L1992.56 640.8 L1992.56 743.3" fill="none" stroke="#b2d6c5" stroke-width="3.2" stroke-linejoin="miter"/>
<path d="M1133 743.3 L1133 157.1 L1150.54 157.1 L1150.54 250.4 L1168.08 250.4 L1168.08 289.3 L1185.63 289.3 L1185.63 309 L1203.17 309 L1203.17 328.5 L1220.71 328.5 L1220.71 357.3 L1238.25 357.3 L1238.25 373 L1255.79 373 L1255.79 371.1 L1273.34 371.1 L1273.34 389.5 L1290.88 389.5 L1290.88 402.6 L1308.42 402.6 L1308.42 419 L1325.96 419 L1325.96 423.4 L1343.5 423.4 L1343.5 428.5 L1361.05 428.5 L1361.05 444.3 L1378.59 444.3 L1378.59 459.5 L1396.13 459.5 L1396.13 453.1 L1413.67 453.1 L1413.67 468.7 L1431.21 468.7 L1431.21 476.7 L1448.76 476.7 L1448.76 478.1 L1466.3 478.1 L1466.3 485.9 L1483.84 485.9 L1483.84 489.8 L1501.38 489.8 L1501.38 497 L1518.92 497 L1518.92 500.5 L1536.47 500.5 L1536.47 516.5 L1554.01 516.5 L1554.01 510.7 L1571.55 510.7 L1571.55 523.2 L1589.09 523.2 L1589.09 526.8 L1606.63 526.8 L1606.63 539.7 L1624.18 539.7 L1624.18 536.4 L1641.72 536.4 L1641.72 543.4 L1659.26 543.4 L1659.26 555.9 L1676.8 555.9 L1676.8 558.4 L1694.34 558.4 L1694.34 555.5 L1711.89 555.5 L1711.89 575.4 L1729.43 575.4 L1729.43 583.2 L1746.97 583.2 L1746.97 590.6 L1764.51 590.6 L1764.51 586.1 L1782.05 586.1 L1782.05 588.1 L1799.6 588.1 L1799.6 592.4 L1817.14 592.4 L1817.14 612.2 L1834.68 612.2 L1834.68 614 L1852.22 614 L1852.22 627.4 L1869.76 627.4 L1869.76 637.9 L1887.31 637.9 L1887.31 647 L1904.85 647 L1904.85 639.5 L1922.39 639.5 L1922.39 668.7 L1939.93 668.7 L1939.93 665.5 L1957.47 665.5 L1957.47 691.8 L1975.02 691.8 L1975.02 711.9 L1992.56 711.9 L1992.56 743.3" fill="none" stroke="#000" stroke-width="2.5" stroke-dasharray="8.3 3.6"/>
<path d="M1133 743.3 L1133 363.4 L1150.54 363.4 L1150.54 368.1 L1168.08 368.1 L1168.08 366.9 L1185.63 366.9 L1185.63 360.9 L1203.17 360.9 L1203.17 358.2 L1220.71 358.2 L1220.71 369.1 L1238.25 369.1 L1238.25 369.3 L1255.79 369.3 L1255.79 350.6 L1273.34 350.6 L1273.34 358 L1290.88 358 L1290.88 357.3 L1308.42 357.3 L1308.42 362.5 L1325.96 362.5 L1325.96 360.9 L1343.5 360.9 L1343.5 360.7 L1361.05 360.7 L1361.05 360.7 L1378.59 360.7 L1378.59 368.1 L1396.13 368.1 L1396.13 364.6 L1413.67 364.6 L1413.67 358 L1431.21 358 L1431.21 368.3 L1448.76 368.3 L1448.76 361.7 L1466.3 361.7 L1466.3 361.7 L1483.84 361.7 L1483.84 358.9 L1501.38 358.9 L1501.38 367.1 L1518.92 367.1 L1518.92 358.2 L1536.47 358.2 L1536.47 374.5 L1554.01 374.5 L1554.01 361.3 L1571.55 361.3 L1571.55 365.4 L1589.09 365.4 L1589.09 364.1 L1606.63 364.1 L1606.63 363.1 L1624.18 363.1 L1624.18 361.9 L1641.72 361.9 L1641.72 356.4 L1659.26 356.4 L1659.26 368.3 L1676.8 368.3 L1676.8 366.9 L1694.34 366.9 L1694.34 365.9 L1711.89 365.9 L1711.89 363.2 L1729.43 363.2 L1729.43 355.8 L1746.97 355.8 L1746.97 364.4 L1764.51 364.4 L1764.51 360.7 L1782.05 360.7 L1782.05 360.7 L1799.6 360.7 L1799.6 362.2 L1817.14 362.2 L1817.14 364.6 L1834.68 364.6 L1834.68 359.5 L1852.22 359.5 L1852.22 361.3 L1869.76 361.3 L1869.76 368.1 L1887.31 368.1 L1887.31 364.4 L1904.85 364.4 L1904.85 359.5 L1922.39 359.5 L1922.39 363.4 L1939.93 363.4 L1939.93 355.2 L1957.47 355.2 L1957.47 370.5 L1975.02 370.5 L1975.02 358.2 L1992.56 358.2 L1992.56 378.5 L2010.1 378.5 L2010.1 743.3" fill="none" stroke="#4169e1" stroke-width="2.9" stroke-linejoin="round"/>
<path d="M1133 743.3 L1133 363.4 L1150.54 363.4 L1150.54 364.4 L1168.08 364.4 L1168.08 376.7 L1185.63 376.7 L1185.63 358 L1203.17 358 L1203.17 354.5 L1220.71 354.5 L1220.71 373.3 L1238.25 373.3 L1238.25 371.5 L1255.79 371.5 L1255.79 355.8 L1273.34 355.8 L1273.34 365 L1290.88 365 L1290.88 358 L1308.42 358 L1308.42 361.9 L1325.96 361.9 L1325.96 361.9 L1343.5 361.9 L1343.5 354.3 L1361.05 354.3 L1361.05 368.7 L1378.59 368.7 L1378.59 371.2 L1396.13 371.2 L1396.13 367.8 L1413.67 367.8 L1413.67 360.1 L1431.21 360.1 L1431.21 373.6 L1448.76 373.6 L1448.76 363.2 L1466.3 363.2 L1466.3 359.5 L1483.84 359.5 L1483.84 360.1 L1501.38 360.1 L1501.38 362.5 L1518.92 362.5 L1518.92 358.2 L1536.47 358.2 L1536.47 366.2 L1554.01 366.2 L1554.01 356.4 L1571.55 356.4 L1571.55 360.7 L1589.09 360.7 L1589.09 358.9 L1606.63 358.9 L1606.63 366.2 L1624.18 366.2 L1624.18 359.2 L1641.72 359.2 L1641.72 358.2 L1659.26 358.2 L1659.26 360.1 L1676.8 360.1 L1676.8 364.1 L1694.34 364.1 L1694.34 355.2 L1711.89 355.2 L1711.89 372.4 L1729.43 372.4 L1729.43 365 L1746.97 365 L1746.97 367.5 L1764.51 367.5 L1764.51 358 L1782.05 358 L1782.05 366.2 L1799.6 366.2 L1799.6 365 L1817.14 365 L1817.14 365.6 L1834.68 365.6 L1834.68 357.3 L1852.22 357.3 L1852.22 356.8 L1869.76 356.8 L1869.76 367.5 L1887.31 367.5 L1887.31 366.9 L1904.85 366.9 L1904.85 361.3 L1922.39 361.3 L1922.39 361.9 L1939.93 361.9 L1939.93 359.7 L1957.47 359.7 L1957.47 366.9 L1975.02 366.9 L1975.02 359.5 L1992.56 359.5 L1992.56 370.3 L2010.1 370.3 L2010.1 743.3" fill="none" stroke="#3cb371" stroke-width="2.9" stroke-linejoin="round" stroke-dasharray="9 3 3 3"/>
<path d="M1133 743.3 L1133 361.3 L1150.54 361.3 L1150.54 364.1 L1168.08 364.1 L1168.08 366.9 L1185.63 366.9 L1185.63 362.9 L1203.17 362.9 L1203.17 364.6 L1220.71 364.6 L1220.71 366.9 L1238.25 366.9 L1238.25 367.5 L1255.79 367.5 L1255.79 358 L1273.34 358 L1273.34 364.4 L1290.88 364.4 L1290.88 361.9 L1308.42 361.9 L1308.42 363.2 L1325.96 363.2 L1325.96 363.4 L1343.5 363.4 L1343.5 363.2 L1361.05 363.2 L1361.05 364.1 L1378.59 364.1 L1378.59 367.8 L1396.13 367.8 L1396.13 360.9 L1413.67 360.9 L1413.67 363.4 L1431.21 363.4 L1431.21 362.9 L1448.76 362.9 L1448.76 363.8 L1466.3 363.8 L1466.3 361.9 L1483.84 361.9 L1483.84 361.9 L1501.38 361.9 L1501.38 361.7 L1518.92 361.7 L1518.92 361.9 L1536.47 361.9 L1536.47 364.1 L1554.01 364.1 L1554.01 361.3 L1571.55 361.3 L1571.55 360.7 L1589.09 360.7 L1589.09 361.3 L1606.63 361.3 L1606.63 364.1 L1624.18 364.1 L1624.18 358 L1641.72 358 L1641.72 363.8 L1659.26 363.8 L1659.26 364.1 L1676.8 364.1 L1676.8 362.2 L1694.34 362.2 L1694.34 361.3 L1711.89 361.3 L1711.89 361.7 L1729.43 361.7 L1729.43 362.2 L1746.97 362.2 L1746.97 364.6 L1764.51 364.6 L1764.51 360.7 L1782.05 360.7 L1782.05 361.9 L1799.6 361.9 L1799.6 364.1 L1817.14 364.1 L1817.14 360.7 L1834.68 360.7 L1834.68 364.1 L1852.22 364.1 L1852.22 365 L1869.76 365 L1869.76 364.4 L1887.31 364.4 L1887.31 362.5 L1904.85 362.5 L1904.85 362.2 L1922.39 362.2 L1922.39 363.4 L1939.93 363.4 L1939.93 359.5 L1957.47 359.5 L1957.47 365.6 L1975.02 365.6 L1975.02 360.7 L1992.56 360.7 L1992.56 364 L2010.1 364 L2010.1 743.3" fill="none" stroke="#dc143c" stroke-width="2.9" stroke-linejoin="round" stroke-dasharray="9 3 3 3 3 3"/>
<path d="M1133 743.3 L1133 360.7 L1150.54 360.7 L1150.54 360.1 L1168.08 360.1 L1168.08 374.2 L1185.63 374.2 L1185.63 363.4 L1203.17 363.4 L1203.17 365 L1220.71 365 L1220.71 358.9 L1238.25 358.9 L1238.25 367.5 L1255.79 367.5 L1255.79 356.4 L1273.34 356.4 L1273.34 358 L1290.88 358 L1290.88 354.5 L1308.42 354.5 L1308.42 364.1 L1325.96 364.1 L1325.96 367.5 L1343.5 367.5 L1343.5 358.2 L1361.05 358.2 L1361.05 361.7 L1378.59 361.7 L1378.59 378.2 L1396.13 378.2 L1396.13 368.1 L1413.67 368.1 L1413.67 362.5 L1431.21 362.5 L1431.21 365 L1448.76 365 L1448.76 358 L1466.3 358 L1466.3 367.5 L1483.84 367.5 L1483.84 350.6 L1501.38 350.6 L1501.38 366.2 L1518.92 366.2 L1518.92 364.1 L1536.47 364.1 L1536.47 375.2 L1554.01 375.2 L1554.01 361.7 L1571.55 361.7 L1571.55 361.3 L1589.09 361.3 L1589.09 360.9 L1606.63 360.9 L1606.63 361.8 L1624.18 361.8 L1624.18 360.7 L1641.72 360.7 L1641.72 360.1 L1659.26 360.1 L1659.26 364.1 L1676.8 364.1 L1676.8 361.7 L1694.34 361.7 L1694.34 354.3 L1711.89 354.3 L1711.89 361.3 L1729.43 361.3 L1729.43 368.7 L1746.97 368.7 L1746.97 368.1 L1764.51 368.1 L1764.51 367.5 L1782.05 367.5 L1782.05 370.8 L1799.6 370.8 L1799.6 362.5 L1817.14 362.5 L1817.14 369.1 L1834.68 369.1 L1834.68 361.7 L1852.22 361.7 L1852.22 365 L1869.76 365 L1869.76 364.6 L1887.31 364.6 L1887.31 362.2 L1904.85 362.2 L1904.85 363.2 L1922.39 363.2 L1922.39 366.6 L1939.93 366.6 L1939.93 358.2 L1957.47 358.2 L1957.47 362.5 L1975.02 362.5 L1975.02 350.8 L1992.56 350.8 L1992.56 364.1 L2010.1 364.1 L2010.1 743.3" fill="none" stroke="#ff4500" stroke-width="2.9" stroke-linejoin="round" stroke-dasharray="3 4.95"/>
</g>
<path d="M1133 725.48h8.6M2010.1 725.48h-8.6M1133 711.74h8.6M2010.1 711.74h-8.6M1133 700.52h8.6M2010.1 700.52h-8.6M1133 691.03h8.6M2010.1 691.03h-8.6M1133 682.81h8.6M2010.1 682.81h-8.6M1133 675.56h8.6M2010.1 675.56h-8.6M1133 669.08h16.9M2010.1 669.08h-16.9M1133 626.42h8.6M2010.1 626.42h-8.6M1133 601.46h8.6M2010.1 601.46h-8.6M1133 583.76h8.6M2010.1 583.76h-8.6M1133 570.02h8.6M2010.1 570.02h-8.6M1133 558.8h8.6M2010.1 558.8h-8.6M1133 549.31h8.6M2010.1 549.31h-8.6M1133 541.09h8.6M2010.1 541.09h-8.6M1133 533.84h8.6M2010.1 533.84h-8.6M1133 527.36h16.9M2010.1 527.36h-16.9M1133 484.7h8.6M2010.1 484.7h-8.6M1133 459.74h8.6M2010.1 459.74h-8.6M1133 442.04h8.6M2010.1 442.04h-8.6M1133 428.3h8.6M2010.1 428.3h-8.6M1133 417.08h8.6M2010.1 417.08h-8.6M1133 407.59h8.6M2010.1 407.59h-8.6M1133 399.37h8.6M2010.1 399.37h-8.6M1133 392.12h8.6M2010.1 392.12h-8.6M1133 385.64h16.9M2010.1 385.64h-16.9M1133 342.98h8.6M2010.1 342.98h-8.6M1133 318.02h8.6M2010.1 318.02h-8.6M1133 300.32h8.6M2010.1 300.32h-8.6M1133 286.58h8.6M2010.1 286.58h-8.6M1133 275.36h8.6M2010.1 275.36h-8.6M1133 265.87h8.6M2010.1 265.87h-8.6M1133 257.65h8.6M2010.1 257.65h-8.6M1133 250.4h8.6M2010.1 250.4h-8.6M1133 243.92h16.9M2010.1 243.92h-16.9M1133 201.26h8.6M2010.1 201.26h-8.6M1133 176.3h8.6M2010.1 176.3h-8.6M1133 158.6h8.6M2010.1 158.6h-8.6M1133 144.86h8.6M2010.1 144.86h-8.6M1133 133.64h8.6M2010.1 133.64h-8.6M1133 124.15h8.6M2010.1 124.15h-8.6M1133 115.93h8.6M2010.1 115.93h-8.6M1133 108.68h8.6M2010.1 108.68h-8.6M1133 102.2h16.9M2010.1 102.2h-16.9M1133 59.54h8.6M2010.1 59.54h-8.6M1133 34.58h8.6M2010.1 34.58h-8.6M1133 16.88h8.6M2010.1 16.88h-8.6M1176.86 743.3v-8.6M1176.86 3.2v8.6M1220.71 743.3v-8.6M1220.71 3.2v8.6M1264.57 743.3v-8.6M1264.57 3.2v8.6M1308.42 743.3v-16.9M1308.42 3.2v16.9M1352.28 743.3v-8.6M1352.28 3.2v8.6M1396.13 743.3v-8.6M1396.13 3.2v8.6M1439.98 743.3v-8.6M1439.98 3.2v8.6M1483.84 743.3v-16.9M1483.84 3.2v16.9M1527.69 743.3v-8.6M1527.69 3.2v8.6M1571.55 743.3v-8.6M1571.55 3.2v8.6M1615.4 743.3v-8.6M1615.4 3.2v8.6M1659.26 743.3v-16.9M1659.26 3.2v16.9M1703.12 743.3v-8.6M1703.12 3.2v8.6M1746.97 743.3v-8.6M1746.97 3.2v8.6M1790.82 743.3v-8.6M1790.82 3.2v8.6M1834.68 743.3v-16.9M1834.68 3.2v16.9M1878.53 743.3v-8.6M1878.53 3.2v8.6M1922.39 743.3v-8.6M1922.39 3.2v8.6M1966.24 743.3v-8.6M1966.24 3.2v8.6" stroke="#000" stroke-width="2.5" fill="none"/>
<rect x="1133" y="3.2" width="877.1" height="740.1" fill="none" stroke="#000" stroke-width="2.7"/>
<text x="1121.9" y="681.38" font-size="36.8" text-anchor="end">100</text>
<text x="1121" y="539.66" font-size="36.8" text-anchor="end">10<tspan font-size="25.76" dy="-12.9">3</tspan></text>
<text x="1121" y="397.94" font-size="36.8" text-anchor="end">10<tspan font-size="25.76" dy="-12.9">4</tspan></text>
<text x="1121" y="256.22" font-size="36.8" text-anchor="end">10<tspan font-size="25.76" dy="-12.9">5</tspan></text>
<text x="1121" y="114.5" font-size="36.8" text-anchor="end">10<tspan font-size="25.76" dy="-12.9">6</tspan></text>
<text x="1133" y="779.5" font-size="36.8" text-anchor="middle">0.0</text>
<text x="1308.42" y="779.5" font-size="36.8" text-anchor="middle">0.2</text>
<text x="1483.84" y="779.5" font-size="36.8" text-anchor="middle">0.4</text>
<text x="1659.26" y="779.5" font-size="36.8" text-anchor="middle">0.6</text>
<text x="1834.68" y="779.5" font-size="36.8" text-anchor="middle">0.8</text>
<text x="2010.1" y="779.5" font-size="36.8" text-anchor="middle">1.0</text>
<text x="2010.3" y="819.5" font-size="42.2" text-anchor="end">BDT</text>
<text transform="translate(1053.9 2.7) rotate(-90)" font-size="41.8" text-anchor="end">Candidates / 0.020</text>
<text x="1177" y="70" font-size="43.4">LHCb</text>
<text x="1176.9" y="122.5" font-size="42" class="b">(b)</text>
<path d="M1474 68.4H1549.1" stroke="#000" stroke-width="2.5" stroke-dasharray="8.3 3.6"/>
<rect x="1474.7" y="100.4" width="73.7" height="26.1" fill="#d5e8de"/>
<rect x="1474.7" y="100.4" width="73.7" height="26.1" fill="url(#hatch)"/>
<rect x="1474.7" y="100.4" width="73.7" height="26.1" fill="none" stroke="#b2d6c5" stroke-width="2.8"/>
<path d="M1474 160H1549.1" stroke="#4169e1" stroke-width="2.9"/>
<path d="M1474 206.2H1549.1" stroke="#3cb371" stroke-width="2.9" stroke-dasharray="9 3 3 3"/>
<path d="M1474 252.4H1549.1" stroke="#dc143c" stroke-width="2.9" stroke-dasharray="9 3 3 3 3 3"/>
<path d="M1474 298.6H1549.1" stroke="#ff4500" stroke-width="2.9" stroke-dasharray="3 4.95"/>
<text x="1576.59" y="81.5" font-size="36.8">Data</text>
<text x="1575.69" y="126.5" font-size="36.8">Simulated</text>
<text x="1735.28" y="126.5" font-size="36.8" class="it">b</text>
<text x="1753.88" y="126.5" font-size="36.8" class="it">b</text>
<path d="M1757.85 97.3h11.3" stroke="#000" stroke-width="1.9"/>
<text x="1773.83" y="126.3" font-size="53.5">→</text>
<text x="1828.52" y="126.5" font-size="36.8" class="it">e</text>
<text x="1845.07" y="113.1" font-size="20.6" style="font-family:'DejaVu Serif',serif">±</text>
<text x="1861.29" y="126.5" font-size="36.8" class="it">μ</text>
<text x="1881.27" y="113.1" font-size="20.6" style="font-family:'DejaVu Serif',serif">∓</text>
<text x="1900.17" y="126.5" font-size="36.8" class="it">X</text>
<text transform="translate(1575.21 173.1) scale(1.08 1)" font-size="36.8" class="it">m</text>
<text transform="translate(1612.3 175.7) scale(1.12 1)" font-size="36.8" style="stroke-width:0.8px">=</text>
<text x="1645.25" y="173.1" font-size="36.8">20</text>
<text x="1691.65" y="173.1" font-size="36.8">GeV/c</text>
<text x="1786.77" y="159.6" font-size="26.8">2</text>
<text x="1801.85" y="173.1" font-size="36.8">,</text>
<text transform="translate(1818.66 173.1) scale(1.22 1)" font-size="36.8" class="it">τ</text>
<text transform="translate(1846.8 175.7) scale(1.12 1)" font-size="36.8" style="stroke-width:0.8px">=</text>
<text x="1879.25" y="173.1" font-size="36.8">2</text>
<text x="1907.36" y="173.1" font-size="36.8">ps</text>
<text transform="translate(1575.21 219.3) scale(1.08 1)" font-size="36.8" class="it">m</text>
<text transform="translate(1612.3 221.9) scale(1.12 1)" font-size="36.8" style="stroke-width:0.8px">=</text>
<text x="1645.25" y="219.3" font-size="36.8">20</text>
<text x="1691.65" y="219.3" font-size="36.8">GeV/c</text>
<text x="1786.77" y="205.8" font-size="26.8">2</text>
<text x="1801.85" y="219.3" font-size="36.8">,</text>
<text transform="translate(1818.66 219.3) scale(1.22 1)" font-size="36.8" class="it">τ</text>
<text transform="translate(1846.8 221.9) scale(1.12 1)" font-size="36.8" style="stroke-width:0.8px">=</text>
<text x="1879.25" y="219.3" font-size="36.8">5</text>
<text x="1907.36" y="219.3" font-size="36.8">ps</text>
<text transform="translate(1575.21 265.5) scale(1.08 1)" font-size="36.8" class="it">m</text>
<text transform="translate(1612.3 268.1) scale(1.12 1)" font-size="36.8" style="stroke-width:0.8px">=</text>
<text x="1645.25" y="265.5" font-size="36.8">20</text>
<text x="1691.65" y="265.5" font-size="36.8">GeV/c</text>
<text x="1786.77" y="252" font-size="26.8">2</text>
<text x="1801.85" y="265.5" font-size="36.8">,</text>
<text transform="translate(1818.66 265.5) scale(1.22 1)" font-size="36.8" class="it">τ</text>
<text transform="translate(1846.8 268.1) scale(1.12 1)" font-size="36.8" style="stroke-width:0.8px">=</text>
<text x="1879.25" y="265.5" font-size="36.8">10</text>
<text x="1925.76" y="265.5" font-size="36.8">ps</text>
<text transform="translate(1575.21 311.7) scale(1.08 1)" font-size="36.8" class="it">m</text>
<text transform="translate(1612.3 314.3) scale(1.12 1)" font-size="36.8" style="stroke-width:0.8px">=</text>
<text x="1645.25" y="311.7" font-size="36.8">20</text>
<text x="1691.65" y="311.7" font-size="36.8">GeV/c</text>
<text x="1786.77" y="298.2" font-size="26.8">2</text>
<text x="1801.85" y="311.7" font-size="36.8">,</text>
<text transform="translate(1818.66 311.7) scale(1.22 1)" font-size="36.8" class="it">τ</text>
<text transform="translate(1846.8 314.3) scale(1.12 1)" font-size="36.8" style="stroke-width:0.8px">=</text>
<text x="1879.25" y="311.7" font-size="36.8">50</text>
<text x="1925.76" y="311.7" font-size="36.8">ps</text>
</svg></body></html>
